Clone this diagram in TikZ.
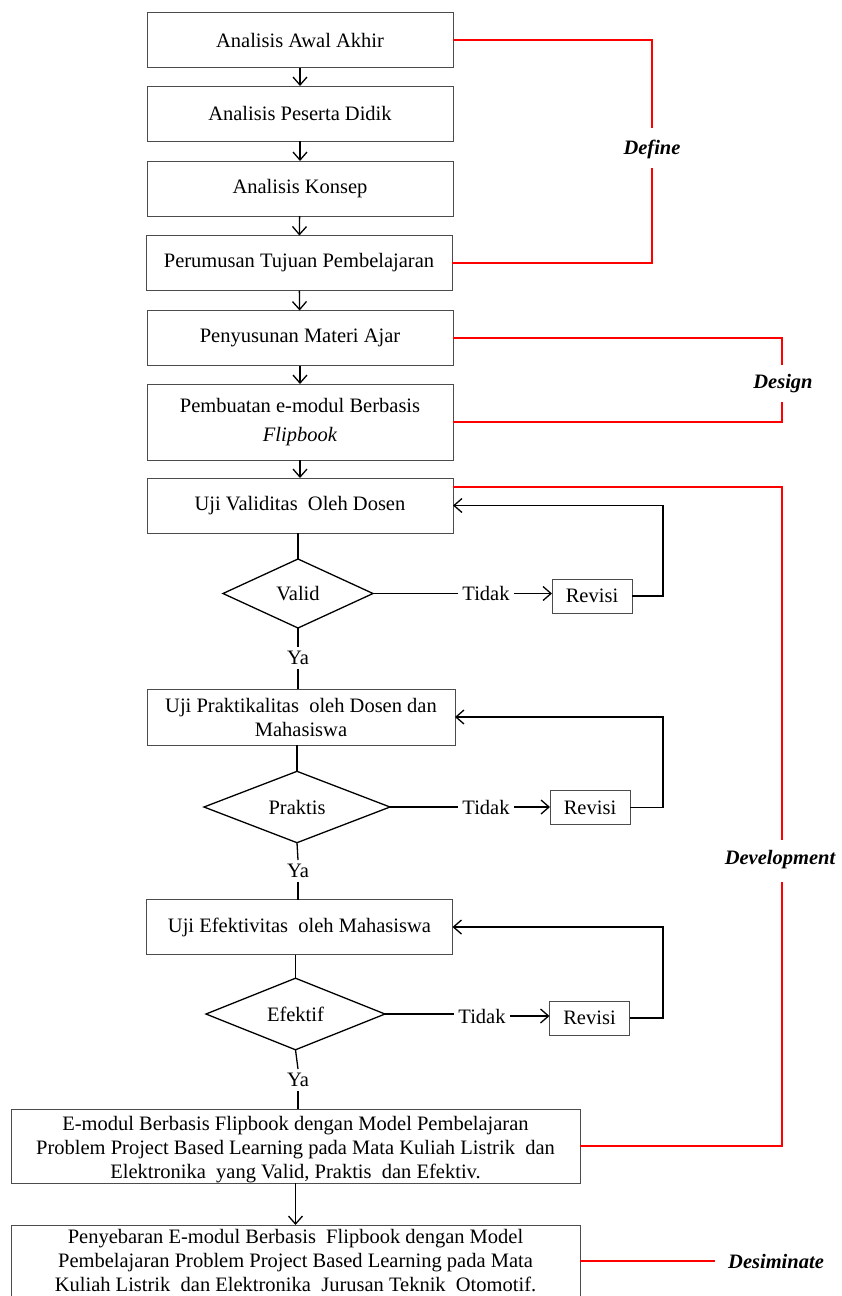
\documentclass[tikz,border=0pt]{standalone}
\usepackage{fontspec}
\setmainfont{Liberation Serif}
\usetikzlibrary{arrows.meta,shapes.geometric}
\begin{document}
\begin{tikzpicture}[x=1pt,y=-1pt,
  txt/.style={font=\fontsize{20.5}{24}\selectfont},
  box/.style={txt,draw=black!70,line width=0.9pt,rectangle,minimum width=306pt,minimum height=55pt,inner sep=0pt,outer sep=0pt,align=center},
  rev/.style={txt,draw=black!70,line width=0.9pt,rectangle,minimum width=80pt,minimum height=34pt,inner sep=0pt,outer sep=0pt},
  dia/.style={txt,draw=black,line width=1.3pt,diamond,inner sep=0pt,outer sep=0pt},
  lbl/.style={txt,inner sep=4pt},
  phase/.style={font=\fontsize{20.5}{24}\selectfont\bfseries\itshape,inner sep=0pt},
  conn/.style={line width=1.3pt,draw=black},
  arr/.style={conn,-{Straight Barb[length=8pt,width=14pt,line width=1.3pt]}},
  redl/.style={line width=1.5pt,draw=red}
]
\useasboundingbox (0,0) rectangle (841,1296);

\node[box] (b1) at (300,40) {Analisis Awal Akhir};
\node[box] (b2) at (300,113.5) {Analisis Peserta Didik};
\node[box] (b3) at (300,188.5) {Analisis Konsep};
\node[box] (b4) at (299,263) {Perumusan Tujuan Pembelajaran};
\node[box] (b5) at (300,338) {Penyusunan Materi Ajar};
\node[box,minimum height=76pt] (b6) at (300,422) {Pembuatan e-modul Berbasis\\[5pt]\textit{Flipbook}};
\node[box] (b7) at (300,505.5) {Uji Validitas\ \ Oleh Dosen};

\node[dia,minimum width=150pt,minimum height=69pt] (d1) at (298,593.5) {Valid};
\node[lbl] (t1) at (486,593.5) {Tidak};
\node[rev] (r1) at (592,596) {Revisi};
\node[lbl] (y1) at (298,658) {Ya};

\node[box,minimum width=308pt,minimum height=56pt] (b8) at (301,717) {Uji Praktikalitas\ \ oleh Dosen dan\\Mahasiswa};
\node[dia,minimum width=186pt,minimum height=70pt] (d2) at (297,807) {Praktis};
\node[lbl] (t2) at (486,807) {Tidak};
\node[rev] (r2) at (590,807.5) {Revisi};
\node[lbl] (y2) at (298,871) {Ya};

\node[box] (b9) at (299.5,927) {Uji Efektivitas\ \ oleh Mahasiswa};
\node[dia,minimum width=179pt,minimum height=68pt] (d3) at (295.5,1014) {Efektif};
\node[lbl] (t3) at (482,1016) {Tidak};
\node[rev] (r3) at (589.5,1018) {Revisi};
\node[lbl] (y3) at (298,1080) {Ya};

\node[box,minimum width=569pt,minimum height=74pt] (b10) at (295.5,1146) {\rule{0pt}{21pt}E-modul Berbasis Flipbook dengan Model Pembelajaran\\Problem Project Based Learning pada Mata Kuliah Listrik\ \ dan\\Elektronika\ \ yang Valid, Praktis\ \ dan Efektiv.};
\node[box,minimum width=569pt,minimum height=72pt] (b11) at (295.5,1261) {Penyebaran E-modul Berbasis\ \ Flipbook dengan Model\\Pembelajaran Problem Project Based Learning pada Mata\\Kuliah Listrik\ \ dan Elektronika\ \ Jurusan Teknik\ \ Otomotif.};

% main flow
\draw[arr] (b1) -- (b2);
\draw[arr] (b2) -- (b3);
\draw[arr] (b3) -- (b4);
\draw[arr] (b4) -- (b5);
\draw[arr] (b5) -- (b6);
\draw[arr] (b6) -- (b7);
\draw[conn] (b7.south -| d1.north) -- (d1.north);
\draw[conn] (d1.south) -- (y1.north);
\draw[conn] (y1.south) -- (y1.south |- b8.north);
\draw[conn] (b8.south -| d2.north) -- (d2.north);
\draw[conn] (d2.south) -- (y2.north);
\draw[conn] (y2.south) -- (y2.south |- b9.north);
\draw[conn] (b9.south -| d3.north) -- (d3.north);
\draw[conn] (d3.south) -- (y3.north);
\draw[conn] (y3.south) -- (y3.south |- b10.north);
\draw[arr] (b10) -- (b11);

% revision loops
\draw[conn] (d1.east) -- (d1.east -| t1.west);
\draw[arr] (t1.east) -- (t1.east -| r1.west);
\draw[arr] (r1.east) -- (663,596) |- (b7.east);
\draw[conn] (d2.east) -- (d2.east -| t2.west);
\draw[arr] (t2.east) -- (t2.east -| r2.west);
\draw[arr] (r2.east) -- (663,807.5) |- (b8.east);
\draw[conn] (d3.east) -- (d3.east -| t3.west);
\draw[arr] (t3.east) -- (t3.east -| r3.west);
\draw[arr] (r3.east) -- (663,1018) |- (b9.east);

% phase brackets
\node[phase] (pdef) at (652,149) {Define};
\node[phase] (pdes) at (783,384) {Design};
\node[phase] (pdev) at (780,860) {Development};
\node[phase,anchor=west] (pdis) at (728,1261) {Desiminate};

\coordinate (dev0) at (453,487);
\draw[redl] (b1.east) -- (652,40) -- (652,128);
\draw[redl] (b4.east) -- (652,263) -- (652,168);
\draw[redl] (b5.east) -- (782,338) -- (782,365);
\draw[redl] (b6.east) -- (782,422) -- (782,402);
\draw[redl] (dev0) -- (782,487) -- (782,840);
\draw[redl] (b10.east) -- (782,1146) -- (782,882);
\draw[redl] (b11.east) -- (715,1261);
\end{tikzpicture}
\end{document}
